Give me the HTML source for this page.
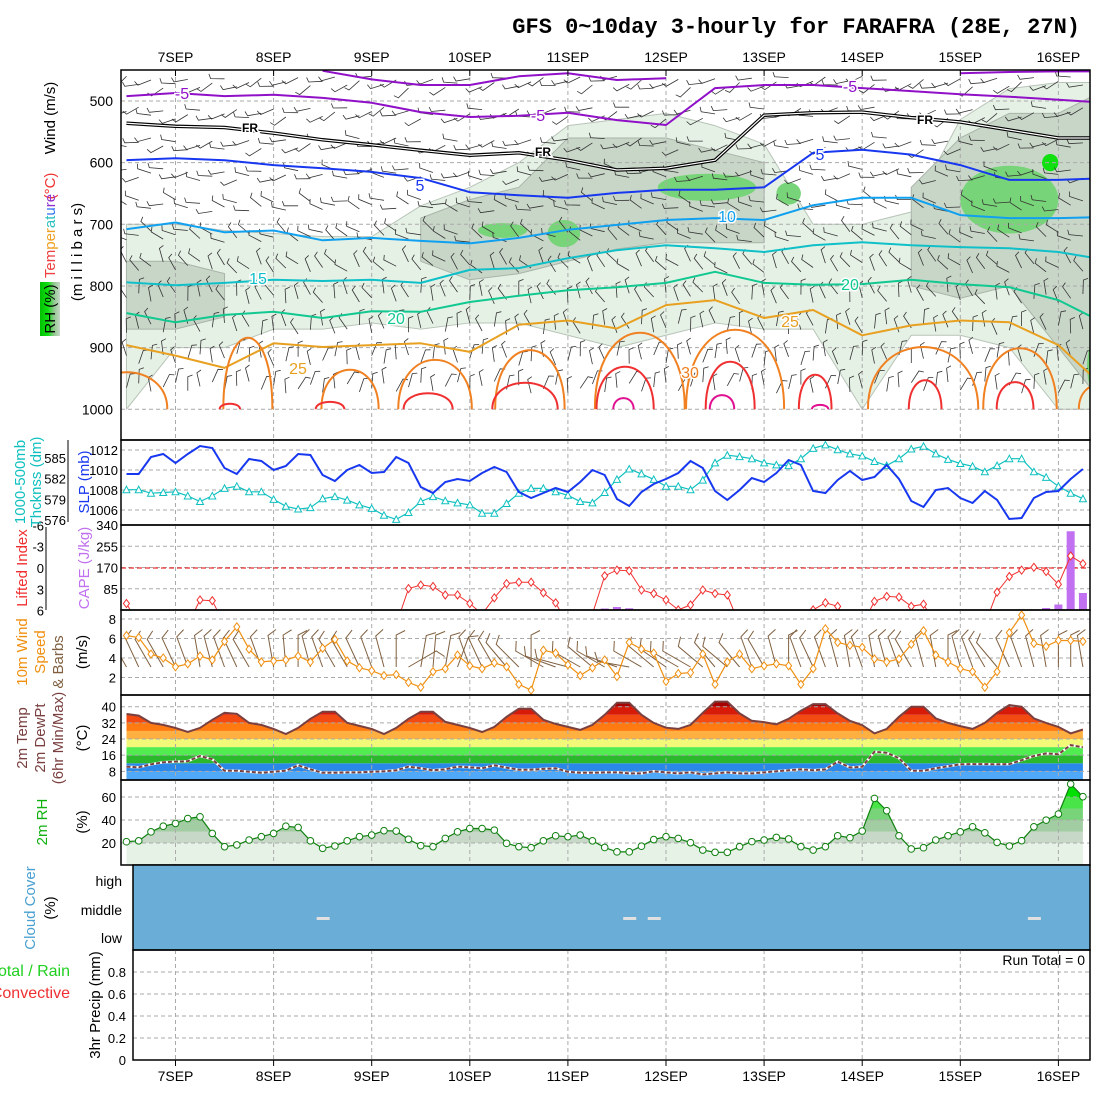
<!DOCTYPE html>
<html><head><meta charset="utf-8"><style>
html,body{margin:0;padding:0;background:#fff;}
svg{display:block;font-family:"Liberation Sans",sans-serif;}
</style></head><body>
<svg id="chart" width="1100" height="1100" viewBox="0 0 1100 1100" xmlns="http://www.w3.org/2000/svg">
<defs>
<clipPath id="c1"><rect x="121" y="70" width="969" height="340"/></clipPath>
<clipPath id="c2"><rect x="121" y="440" width="969" height="85"/></clipPath>
<clipPath id="c3"><rect x="121" y="525" width="969" height="85"/></clipPath>
<clipPath id="c4"><rect x="121" y="610" width="969" height="85"/></clipPath>
<clipPath id="c5"><rect x="121" y="695" width="969" height="85"/></clipPath>
<clipPath id="c6"><rect x="121" y="780" width="969" height="85"/></clipPath>
<linearGradient id="rhg" x1="0" x2="1" y1="0" y2="0"><stop offset="0" stop-color="#00c000"/><stop offset="0.4" stop-color="#10e010"/><stop offset="0.7" stop-color="#90c890"/><stop offset="1" stop-color="#c8d8c8"/></linearGradient>
</defs>
<text x="1080" y="33" text-anchor="end" font-family="Liberation Mono, monospace" font-weight="bold" font-size="22">GFS 0~10day 3-hourly for FARAFRA (28E, 27N)</text>
<g id="g1"></g><g id="g2"></g><g id="g3"></g><g id="g4"></g><g id="g5"></g><g id="g6"></g><g id="g7"></g><g id="g8"></g><g id="glab"></g>
</svg>
<script>
// ---------- data ----------
const days = ["7SEP","8SEP","9SEP","10SEP","11SEP","12SEP","13SEP","14SEP","15SEP","16SEP"];
const slp = [1009.6,1009.6,1011.3,1011.6,1010.7,1011.6,1012.4,1012.2,1010.2,1009.6,1011.1,1010.9,1010,1010.4,1011.6,1011.5,1009.5,1008.9,1010,1010.5,1009.7,1009.8,1011.3,1010.7,1008.3,1007.7,1008.8,1009.1,1008.9,1009.7,1010.3,1009.8,1007.8,1007.2,1007.7,1008.2,1007.8,1008.8,1010,1009.5,1007.1,1006.4,1007.8,1008.6,1009.1,1009.7,1010.9,1010.2,1007.9,1007,1008,1009.2,1008.8,1009.7,1011,1010.5,1007.9,1007.7,1009,1009.9,1009,1009.3,1010.5,1009.1,1006.9,1006.3,1008,1008.2,1007.2,1006.7,1007.9,1007,1005.1,1005.2,1007.2,1007.8,1007.9,1009.1,1010.1];
const thick = [580.4,580.4,579.9,580,580.1,579.5,578.7,579.5,580.6,580.9,580.1,580.1,579,578,577.6,577.8,579.1,579.4,578.9,578.2,577.7,576.7,576.1,577.1,578.7,579.4,578.8,578.5,578.2,577,577,578.4,579.9,580.6,580.6,580.1,579.6,578.7,578.5,580,581.9,583.4,582.7,581.9,580.9,580.9,580.4,581.8,584.3,585.4,585.2,584.9,584.3,584,583.9,584.9,586.4,586.9,586.2,585.6,585.3,584.5,583.9,584.9,586.3,586.7,585.6,584.8,584.2,583.8,583,583.9,584.9,584.9,583,582.2,580.9,579.9,579.1];
const liftedIndex = [5,8,8,8,8,8,4.5,4.6,8,8,8,8,8,8,8,8,8,8,8,8,8,8,8,2.9,2.4,2.6,3.8,3.8,5,6.5,4.2,2.2,2,2,3.5,4.9,8,8,6.5,1.1,0.3,0.4,3.1,3.6,4.5,5.9,5.2,3.1,3.6,3.8,8,8,8,8,8,8,5.9,4.9,5.4,8,8,4.7,4,4.1,5.4,5.1,8,8,8,8,8,3.4,1.2,0.3,-0.1,0.5,2.3,-1.7,-0.6];
const cape = [0,0,0,0,0,0,0,0,0,0,0,0,0,0,0,0,0,0,0,0,0,0,0,0,0,0,0,0,0,0,0,0,0,0,0,0,0,0,0,6,12,7,0,0,0,0,0,0,0,0,0,0,0,0,0,0,0,0,0,0,0,0,0,0,0,0,0,0,0,0,0,0,0,0,0,8,22,315,68];
const wspd = [6.3,6.1,4.4,4,3.1,3.4,4.2,3.8,5.7,7.2,4.9,3.6,3.7,3.8,4.2,3.6,5,5.9,3.7,3,2.7,2.2,2.3,1.5,1,2.6,2.9,4.3,3.2,2.9,3.5,3.1,1.3,0.7,4.8,4.5,3.3,2.2,3,3.8,2.1,5.6,4.9,4.5,1.6,2.4,2.5,4.4,1.3,3.6,4.4,2.9,3.2,3.4,3.2,1.3,2.9,7,5.6,5.3,5.1,3.9,3.6,3.9,5.4,6.8,4.3,3.6,2.9,2.6,1,2.6,6.6,8.4,5.5,5.2,5.8,5.8,5.7];
const wdir = [330,335,330,330,335,340,350,345,340,335,330,340,350,355,0,345,340,330,330,335,340,345,0,60,10,5,10,20,340,335,330,320,315,0,300,290,285,300,310,300,290,280,300,310,305,300,300,310,320,310,320,340,330,345,0,340,335,340,345,350,340,350,345,340,330,345,350,0,345,340,330,320,335,340,345,350,0,0,350];
const temp2m = [36.4,35.6,32,31,29.5,27.5,29.5,33.5,37,36.5,32,31,29,26.5,29.5,34,37.5,37.5,32,30.5,29,26.5,29.5,34,37.5,37.5,32.5,31,29.5,27.5,30,35,39,39,33.5,31.5,30,28.5,31,36,42,42,36,32,29.6,29,31,37,42.5,42.5,36.7,33,32.4,31.3,34,38,41.3,41.3,36.7,33,30.9,26.8,29,35,40,40,34.2,32,30.4,29,32,37,40.8,40,34.2,32,30,26.8,28.7];
const dew2m = [10.3,10,11.5,12.5,12.8,13,15.6,14,8.3,8.3,7.8,7.3,7.8,8.3,11,9,7.3,7.3,7.5,7.5,7.8,8,8.5,10.3,9.5,8.5,9,10.3,10,9.5,11,9.8,8.8,8.8,9.2,9.5,7.8,7.3,7.3,7.5,7.5,7,7,8,7.5,7,7.5,6.5,7,7.5,7,7,7.5,8,8.5,9,8.5,9,12.8,9.9,10.3,17.7,17.2,14.5,8.3,8.3,9.5,10.5,11.5,11.6,11.6,11.5,11.6,13.5,15.6,16.9,16.5,21,19.9];
const rh2m = [21.1,21.9,29.7,34.6,37,41.3,42.8,28.3,16.8,18.3,22.6,25.5,28.3,34.6,33.5,21.9,15.4,17.4,21.9,25.5,26.9,30.7,30.4,23.2,17.7,16.8,24,29.7,32.6,32.6,31.2,19.7,16.8,15.9,21.9,26.3,25.5,26.9,21.9,16.1,12.3,12.3,17.2,23,25.5,24,20.3,13.9,11.9,11.9,16.8,21.2,22.6,24.9,23.5,16.8,13.9,16.8,26.3,24.6,30.4,58.8,48.1,26.3,14.8,15.9,22.6,26.3,29.7,34.1,28.9,20.5,17.4,22,34.1,39.9,45.2,71.3,60.3];
const cloudGapHours = [36,111,117,210];
const precip = [];
// upper-air contours sampled every 12 h from -12 h
const isoM5a = [492,487,492,490,495,503,518,526,524,519,531,539,479,474,474,479,484,489,493,498,503];
const isoM5b = [null,null,null,null,451,465,474,474,460,455,466,463,null,null,null,null,null,455,453,452,452];
const isoFR = [536,541,543,552,563,571,580,588,584,596,612,609,596,523,519,518,527,534,547,560,560];
const iso5 = [596,593,596,604,609,615,625,648,653,657,649,644,644,640,584,579,587,604,628,628,625];
const iso10 = [708,697,713,710,726,722,727,731,722,709,701,693,690,693,669,657,657,685,690,690,688];
const iso15 = [794,799,795,790,792,790,795,774,771,755,742,734,739,745,734,729,734,737,739,745,758];
const iso20 = [844,859,847,842,852,841,842,826,816,807,802,795,777,795,798,797,790,797,802,823,863];
const iso25 = [896,913,933,893,899,896,893,907,863,856,869,831,823,852,839,880,864,856,859,896,969];
const loop30H = [-12,17.7,42.7,63.5,86.7,113.6,136.9,182.9,206.6,226];
const loop30P = [940,884,936,920,904,876,871,899,901,960];
const loop30W = [10,6,7,9,8.5,11,12,13.5,9,5];
const loop35H = [13.3,37.8,61.8,85.5,110,135.7,156.5,183.4,205.4];
const loop35P = [991,988,974,957,931,923,944,953,956];
const loop35W = [2.5,3.5,6,8,7,6,4,4,4.5];
const loop40H = [109.6,133.7,157.7];
const loop40P = [982,977,993];
const loop40W = [2.5,3,2];
const rhLightTop = [700,700,710,715,720,720,670,640,600,540,530,520,540,570,700,700,680,530,480,470,470];
const rhLightBot = [1000,900,900,870,870,860,870,860,860,880,900,880,860,870,870,1000,880,880,900,1000,1000];
const rhGrayTop = [760,760,780,null,null,null,690,660,640,560,560,560,580,600,null,null,640,560,520,520,480];
const rhGrayBot = [870,870,850,null,null,null,760,790,780,760,740,730,730,730,null,null,800,820,800,900,1000];
const patchH = [80,95,130,150,204,214,226];
const patchP = [710,715,640,650,660,600,930];
const patchHW = [6,4,12,3,12,2,3];
const patchPW = [12,22,22,18,55,14,50];
const upperLevels = [470,520,570,620,670,720,770,820,870,920,965];
const upperDir = [250,255,260,270,285,300,320,340,350,0,10];

// ---------- helpers ----------
const NS="http://www.w3.org/2000/svg";
function mk(parent,tag,attrs){const e=document.createElementNS(NS,tag);for(const k in attrs)e.setAttribute(k,attrs[k]);document.getElementById(parent).appendChild(e);return e;}
const xh = h => 175.5 + h*98.1/24;
const xi = i => xh(-12+3*i);
const xk = k => xh(-12+12*k);
const py = p => 101 + (p-500)*0.6165;
const ySlp = v => 450 + (1012-v)*10;
const yTh = v => 458 + (585-v)*6.9;
const yCape = v => 610 - v*0.25;
const yLI = v => 568 + v*7.1;
const yW = v => 697 - v*9.75;
const yT = v => 787.5 - 2.02*v;
const yRH = v => 866 - 1.15*v;
const yPr = v => 1060 - v*110;
function poly(arr,fx,fy){return arr.map((v,i)=>(i?"L":"M")+fx(i).toFixed(1)+","+fy(v).toFixed(1)).join("");}
function txt(g,x,y,s,attrs){const e=mk(g,"text",Object.assign({x:x,y:y},attrs||{}));e.textContent=s;return e;}
function vtxt(g,x,y,s,attrs){const e=mk(g,"text",Object.assign({x:0,y:0,transform:`translate(${x},${y}) rotate(-90)`,"text-anchor":"middle"},attrs||{}));e.textContent=s;return e;}

function grid(g,y0,y1){for(let d=0;d<days.length;d++){const x=xh(24*d);const l=mk(g,"line",{x1:x,x2:x,y1:y0,y2:y1,stroke:"#aaa","stroke-dasharray":"4,3"});

}}
function hgrid(g,y,x0){const l=mk(g,"line",{x1:x0||121,x2:1090,y1:y,y2:y,stroke:"#aaa","stroke-dasharray":"4,3"});

}
function frame(g,y0,y1,x0,name){const r=mk(g,"rect",{x:x0,y:y0,width:1090-x0,height:y1-y0,fill:"none",stroke:"#000","stroke-width":1.5});

}

// ===== Panel 1: upper air =====
function band(topA,botA,fill,stroke,name){let segs=[];let cur=[];topA.forEach((t,k)=>{if(t==null){if(cur.length)segs.push(cur);cur=[];}else cur.push(k);});if(cur.length)segs.push(cur);
segs.forEach(s=>{let d="";
s.forEach((k,j)=>{d+=(j?"L":"M")+xk(k)+","+py(topA[k]);});
for(let j=s.length-1;j>=0;j--){d+="L"+xk(s[j])+","+py(botA[s[j]]);}
const p=mk("g1","path",{d:d+"Z",fill:fill,stroke:stroke,"stroke-width":1,"clip-path":"url(#c1)","stroke-linejoin":"round"});

});}
band(rhLightTop,rhLightBot,"#e6f1e6","#b8c4b8","rh-shade-light");
band(rhGrayTop,rhGrayBot,"#c8d6c8","#a8b4a8","rh-shade-50");
patchH.forEach((h,j)=>{const e=mk("g1","ellipse",{cx:xh(h),cy:py(patchP[j]),rx:patchHW[j]*4.09,ry:patchPW[j]*0.6165,fill:j==5?"#10e010":"#78d478","clip-path":"url(#c1)"});

});
[500,600,700,800,900,1000].forEach(p=>hgrid("g1",py(p)));
grid("g1",70,440);
for(let i=0;i<79;i++){upperLevels.forEach((p,j)=>{const a=(upperDir[j]+((i*37+j*23)%50)-25)*Math.PI/180;const x=xi(i),y=py(p+((i*13+j*7)%20)-10);const L=14;const x2=x+Math.sin(a)*L,y2=y-Math.cos(a)*L;const b=a+1.2;
const l=mk("g1","path",{d:`M${x.toFixed(1)},${y.toFixed(1)}L${x2.toFixed(1)},${y2.toFixed(1)}l${(Math.sin(b)*5).toFixed(1)},${(-Math.cos(b)*5).toFixed(1)}`,stroke:"#333","stroke-width":0.8,fill:"none","clip-path":"url(#c1)"});

});}
function iso(arr,color,name,w,dbl){let d="";let pen=false;arr.forEach((p,k)=>{if(p==null){pen=false;return;}d+=(pen?"L":"M")+xk(Math.min(k,20))+","+py(p).toFixed(1);pen=true;});
if(dbl){const e0=mk("g1","path",{d:d,fill:"none",stroke:"#000","stroke-width":3.5,"clip-path":"url(#c1)"});


const e1=mk("g1","path",{d:d,fill:"none",stroke:"#fff","stroke-width":1.2,"clip-path":"url(#c1)"});

return;}
const e=mk("g1","path",{d:d,fill:"none",stroke:color,"stroke-width":w||2,"clip-path":"url(#c1)","stroke-linejoin":"round"});

}
iso(isoM5a,"#9010c8","isotherm-minus5");
iso(isoM5b,"#9010c8","isotherm-minus10");
iso(isoFR,"#000","freezing-level",2,true);
iso(iso5,"#1838f0","isotherm-5");
iso(iso10,"#10a0f0","isotherm-10");
iso(iso15,"#10c0c8","isotherm-15");
iso(iso20,"#10c890","isotherm-20");
iso(iso25,"#e8a020","isotherm-25");
function loops(H,P,W,color,name){H.forEach((h,j)=>{const y0=py(1000);const yt=py(P[j]);const yc=(yt-0.25*y0)/0.75;const x0=xh(h-W[j]),x1=xh(h+W[j]);
const e=mk("g1","path",{d:`M${x0},${y0}C${x0},${yc} ${x1},${yc} ${x1},${y0}`,fill:"none",stroke:color,"stroke-width":2,"clip-path":"url(#c1)"});

});}
loops(loop30H,loop30P,loop30W,"#f08020","isotherm-30");
loops(loop35H,loop35P,loop35W,"#f03030","isotherm-35");
loops(loop40H,loop40P,loop40W,"#e01090","isotherm-40");
[[182,99,"-5","#9010c8"],[538,121,"-5","#9010c8"],[850,92,"-5","#9010c8"],[250,132,"FR","#000"],[543,156,"FR","#000"],[925,124,"FR","#000"],[420,191,"5","#1838f0"],[820,160,"5","#1838f0"],[727,222,"10","#10a0f0"],[258,284,"15","#10c0c8"],[396,324,"20","#10c890"],[850,290,"20","#10c890"],[298,374,"25","#e8a020"],[790,327,"25","#e8a020"],[690,378,"30","#f08020"]].forEach(t=>{const e=txt("g1",t[0],t[1],t[2],{fill:t[3],"font-size":t[2]=="FR"?12:16,"text-anchor":"middle","font-weight":t[2]=="FR"?"bold":"normal",stroke:"#fff","stroke-width":3,"paint-order":"stroke"});

});
frame("g1",70,440,121,"upper-air-panel");
[500,600,700,800,900,1000].forEach(p=>{const e=txt("g1",113,py(p)+5,String(p),{"text-anchor":"end","font-size":14});

});
days.forEach((d,k)=>{const e=txt("g1",xh(24*k),62,d,{"text-anchor":"middle","font-size":14});


const t=mk("g1","line",{x1:xh(24*k),x2:xh(24*k),y1:70,y2:76,stroke:"#000"});

});

// ===== Panel 2 =====
[1012,1010,1008,1006].forEach(v=>hgrid("g2",ySlp(v)));
grid("g2",440,525);
{const e=mk("g2","path",{d:poly(thick,xi,yTh),fill:"none",stroke:"#10c0c0","stroke-width":1.2,"clip-path":"url(#c2)"});

}
thick.forEach((v,i)=>{const x=xi(i),y=yTh(v);const e=mk("g2","path",{d:`M${x-3.5},${y+3}L${x},${y-3.5}L${x+3.5},${y+3}Z`,fill:"#fff",stroke:"#10c0c0","stroke-width":1,"clip-path":"url(#c2)"});

});
{const e=mk("g2","path",{d:poly(slp,xi,ySlp),fill:"none",stroke:"#1838f0","stroke-width":2,"clip-path":"url(#c2)"});

}
frame("g2",440,525,121,"slp-panel");
[1012,1010,1008,1006].forEach(v=>{const e=txt("g2",118,ySlp(v)+5,String(v),{"text-anchor":"end","font-size":13});

});
[585,582,579,576].forEach(v=>{const e=txt("g2",66,yTh(v)+5,String(v),{"text-anchor":"end","font-size":13});

});
{const e=mk("g2","line",{x1:68,x2:68,y1:440,y2:522,stroke:"#000"});

}

// ===== Panel 3 =====
[255,170,85].forEach(v=>hgrid("g3",yCape(v)));
grid("g3",525,610);
{const e=mk("g3","line",{x1:121,x2:1090,y1:yLI(0),y2:yLI(0),stroke:"#f03030","stroke-dasharray":"5,3","stroke-width":1.2});

}
cape.forEach((v,i)=>{if(v<=0)return;const e=mk("g3","rect",{x:xi(i)-4,y:yCape(v),width:8,height:610-yCape(v),fill:"#c070f0","clip-path":"url(#c3)"});

});
{const e=mk("g3","path",{d:poly(liftedIndex,xi,yLI),fill:"none",stroke:"#f03030","stroke-width":1,"clip-path":"url(#c3)"});

}
liftedIndex.forEach((v,i)=>{if(v>6.5)return;const x=xi(i),y=yLI(v);const e=mk("g3","path",{d:`M${x},${y-4}L${x+3},${y}L${x},${y+4}L${x-3},${y}Z`,fill:"#fff",stroke:"#f03030","clip-path":"url(#c3)"});

});
frame("g3",525,610,121,"cape-panel");
[340,255,170,85].forEach(v=>{const e=txt("g3",118,yCape(v)+5,String(v),{"text-anchor":"end","font-size":13});

});
[-6,-3,0,3,6].forEach(v=>{const e=txt("g3",44,yLI(v)+5,String(v),{"text-anchor":"end","font-size":13});

});
{const e=mk("g3","line",{x1:46,x2:46,y1:527,y2:610,stroke:"#000"});

}

// ===== Panel 4 =====
[8,6,4,2].forEach(v=>hgrid("g4",yW(v)));
grid("g4",610,695);
wdir.forEach((d,i)=>{const a=d*Math.PI/180;const x=xi(i),y=667;const L=32;const x2=x+Math.sin(a)*L,y2=y-Math.cos(a)*L;const b=a+1.1;
const e=mk("g4","path",{d:`M${x.toFixed(1)},${y}L${x2.toFixed(1)},${y2.toFixed(1)}l${(Math.sin(b)*10).toFixed(1)},${(-Math.cos(b)*10).toFixed(1)}`,fill:"none",stroke:"#806040","stroke-width":1,"clip-path":"url(#c4)"});

});
{const e=mk("g4","path",{d:poly(wspd,xi,yW),fill:"none",stroke:"#f09010","stroke-width":1.2,"clip-path":"url(#c4)"});

}
wspd.forEach((v,i)=>{const x=xi(i),y=yW(v);const e=mk("g4","path",{d:`M${x},${y-4}L${x+3},${y}L${x},${y+4}L${x-3},${y}Z`,fill:"#fff",stroke:"#f09010"});

});
frame("g4",610,695,121,"wind-panel");
[8,6,4,2].forEach(v=>{const e=txt("g4",116,yW(v)+5,String(v),{"text-anchor":"end","font-size":13});

});

// ===== Panel 5 =====
{const d=poly(temp2m,xi,yT)+`L${xi(78)},780L${xi(0)},780Z`;
const cp=mk("g5","clipPath",{id:"tclip"});const cpp=document.createElementNS(NS,"path");cpp.setAttribute("d",d);cp.appendChild(cpp);
const bands=[[0,8,"#50a8f8"],[8,12,"#2a88e8"],[12,16,"#2cb82c"],[16,20,"#50ec50"],[20,24,"#f2f878"],[24,28,"#ffb040"],[28,32,"#ff7a10"],[32,36,"#f24a10"],[36,40,"#d81a08"],[40,50,"#a80000"]];
bands.forEach(b=>{const e=mk("g5","rect",{x:121,y:yT(b[1]),width:969,height:yT(b[0])-yT(b[1]),fill:b[2],"clip-path":"url(#tclip)"});

});}
[40,32,24,16,8].forEach(v=>hgrid("g5",yT(v)));
grid("g5",695,780);
{const e=mk("g5","path",{d:poly(temp2m,xi,yT),fill:"none",stroke:"#7a4040","stroke-width":2});

}
{const e=mk("g5","path",{d:poly(dew2m,xi,yT),fill:"none",stroke:"#fff","stroke-width":2.5});


const f=mk("g5","path",{d:poly(dew2m,xi,yT),fill:"none",stroke:"#7a4040","stroke-width":2,"stroke-dasharray":"4,2"});

}
frame("g5",695,780,121,"temperature-panel");
[40,32,24,16,8].forEach(v=>{const e=txt("g5",116,yT(v)+5,String(v),{"text-anchor":"end","font-size":13});

});

// ===== Panel 6 =====
{const d=poly(rh2m,xi,yRH)+`L${xi(78)},865L${xi(0)},865Z`;
const cp=mk("g6","clipPath",{id:"rclip"});const cpp=document.createElementNS(NS,"path");cpp.setAttribute("d",d);cp.appendChild(cpp);
[[0,20,"#e6f2e6"],[20,30,"#c8d8c8"],[30,40,"#a2cca2"],[40,50,"#78d478"],[50,60,"#48e448"],[60,100,"#00e000"]].forEach(b=>{const e=mk("g6","rect",{x:121,y:yRH(b[1]),width:969,height:yRH(b[0])-yRH(b[1]),fill:b[2],"clip-path":"url(#rclip)"});

});}
[60,40,20].forEach(v=>hgrid("g6",yRH(v)));
grid("g6",780,865);
{const e=mk("g6","path",{d:poly(rh2m,xi,yRH),fill:"none",stroke:"#108010","stroke-width":1.2});

}
rh2m.forEach((v,i)=>{const e=mk("g6","circle",{cx:xi(i),cy:yRH(v),r:3.3,fill:"#fff",stroke:"#108010"});

});
frame("g6",780,865,121,"rh-panel");
[60,40,20].forEach(v=>{const e=txt("g6",116,yRH(v)+5,String(v),{"text-anchor":"end","font-size":13});

});

// ===== Panel 7 =====
{const e=mk("g7","rect",{x:133,y:865,width:957,height:85,fill:"#6aadd6",stroke:"#000","stroke-width":1.5});

}
cloudGapHours.forEach(h=>{const e=mk("g7","rect",{x:xh(h)-6,y:917,width:13,height:3,fill:"#e0e0e0"});

});
[["high",886],["middle",915],["low",943]].forEach(t=>{const e=txt("g7",122,t[1],t[0],{"text-anchor":"end","font-size":14});

});

// ===== Panel 8 =====
[0.8,0.6,0.4,0.2].forEach(v=>hgrid("g8",yPr(v),133));
grid("g8",950,1060);
precip.forEach((v,i)=>{const e=mk("g8","rect",{x:xi(i)-4,y:yPr(v),width:8,height:1060-yPr(v),fill:"#20d020"});

});
frame("g8",950,1060,133,"precip-panel");
[0.8,0.6,0.4,0.2,0].forEach(v=>{const e=txt("g8",126,yPr(v)+5,String(v),{"text-anchor":"end","font-size":13});

});
{const e=txt("g8",1085,965,"Run Total = 0",{"text-anchor":"end","font-size":14});

}
days.forEach((d,k)=>{const e=txt("g8",xh(24*k),1081,d,{"text-anchor":"middle","font-size":14});


const t=mk("g8","line",{x1:xh(24*k),x2:xh(24*k),y1:1060,y2:1066,stroke:"#000"});

});

// ===== axis titles =====
const fs={"font-size":15};
[[55,118,"Wind (m/s)","#000"],[55,186,"(°C)","#f03030"]].forEach(t=>{const e=vtxt("glab",t[0],t[1],t[2],Object.assign({fill:t[3]},fs));

});
{const e=mk("glab","text",{x:0,y:0,transform:"translate(55,236) rotate(-90)","text-anchor":"middle","font-size":15});


[["Tem","#f04040"],["per","#f0a020"],["at","#30c0c0"],["u","#3070f0"],["re","#9030d0"]].forEach(s=>{const ts=document.createElementNS(NS,"tspan");ts.setAttribute("fill",s[1]);ts.textContent=s[0];e.appendChild(ts);});}
{const e=vtxt("glab",82,252,"(m i l l i b a r s)",fs);

}
{const r=mk("glab","rect",{x:40,y:282,width:20,height:54,fill:"url(#rhg)"});


const e=vtxt("glab",55,309,"RH (%)",fs);

}
[[25,482,"1000-500mb","#10c0c0"],[41,482,"Thcknss (dm)","#10c0c0"],[89,482,"SLP (mb)","#1838f0"],[27,568,"Lifted Index","#f03030"],[89,568,"CAPE (J/kg)","#c070f0"],[27,652,"10m Wind","#f09010"],[45,652,"Speed","#f09010"],[63,662,"& Barbs","#806040"],[87,652,"(m/s)","#000"],[27,738,"2m Temp","#7a4040"],[45,738,"2m DewPt","#7a4040"],[63,738,"(6hr Min/Max)","#7a4040"],[87,738,"(°C)","#000"],[47,822,"2m RH","#10b010"],[87,822,"(%)","#000"],[35,908,"Cloud Cover","#4aa0d0"],[55,908,"(%)","#000"],[100,1005,"3hr Precip (mm)","#000"]].forEach(t=>{const e=vtxt("glab",t[0],t[1],t[2],Object.assign({fill:t[3]},fs));

});
{const e=txt("glab",70,976,"Total / Rain",{"text-anchor":"end","font-size":16,fill:"#20d020"});


const f=txt("glab",70,998,"Convective",{"text-anchor":"end","font-size":16,fill:"#f03030"});

}
</script>
</body></html>
